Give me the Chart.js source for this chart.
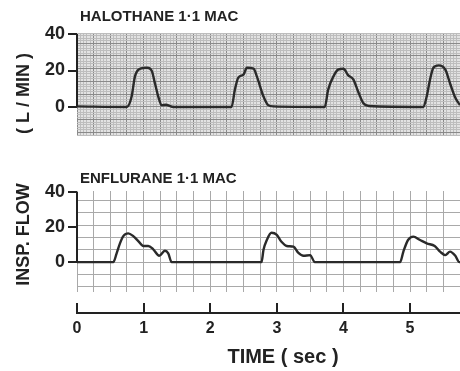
<!DOCTYPE html>
<html>
<head>
<meta charset="utf-8">
<script src="https://cdn.jsdelivr.net/npm/chart.js@4.4.1/dist/chart.umd.min.js"></script>
<style>
  html, body { margin: 0; padding: 0; background: #fff; }
  #wrap { position: relative; width: 460px; height: 371px; overflow: hidden; }
  #wrap div { position: absolute; left: 0; width: 460px; }
</style>
</head>
<body>
<div id="wrap">
  <div style="top:0;height:371px"><canvas id="timeAxis"></canvas></div>
  <div style="top:0;height:155px"><canvas id="halothane"></canvas></div>
  <div style="top:150px;height:160px"><canvas id="enflurane"></canvas></div>
</div>
<script>
// tick labels
const timeTicks = [0, 1, 2, 3, 4, 5];
const flowTicks = [0, 20, 40];

// halothane 1.1 MAC trace (sec, L/min)
const halothaneTime = [0, 0.75, 0.82, 0.87, 0.95, 1.05, 1.12, 1.17, 1.22, 1.27, 1.33, 1.45,
  2.32, 2.37, 2.42, 2.50, 2.55, 2.65, 2.70, 2.80, 2.87, 2.95,
  3.72, 3.77, 3.85, 3.92, 4.00, 4.07, 4.15, 4.22, 4.30, 4.38,
  5.20, 5.25, 5.30, 5.35, 5.43, 5.53, 5.60, 5.68, 5.75];
const halothaneFlow = [0.3, 0, 5.7, 16.8, 21, 21.5, 20, 13, 5.7, 1, 1.2, 0,
  0, 9.4, 16, 17.8, 21.5, 21, 16.8, 5.7, 1, 0.3,
  0, 9.4, 16.8, 20.5, 21, 17.5, 15, 8.5, 2, 0.5,
  0, 5.7, 15, 21.5, 22.8, 20.5, 13, 5, 1];

// enflurane 1.1 MAC trace (sec, L/min)
const enfluraneTime = [0, 0.545, 0.595, 0.645, 0.695, 0.77, 0.845, 0.92, 0.995, 1.07, 1.145, 1.235, 1.32, 1.37, 1.42,
  2.77, 2.80, 2.85, 2.92, 3.00, 3.07, 3.15, 3.25, 3.32, 3.40, 3.50, 3.57,
  4.85, 4.90, 4.97, 5.05, 5.15, 5.25, 5.37, 5.45, 5.53, 5.60, 5.68, 5.74, 5.75];
const enfluraneFlow = [0, 0, 5, 10.7, 14.8, 16.4, 14.8, 12, 9.2, 9.2, 7.3, 3.6, 6.5, 5, 0,
  0, 7, 12.6, 16.7, 15.5, 11.6, 9.2, 8.8, 5.4, 3.6, 4, 0,
  0, 6, 12.6, 14.5, 12.6, 10.7, 9.2, 6, 4, 6, 3.6, 0, 0];

const FONT = '"Liberation Sans", Arial, sans-serif';
const INK = '#222';
const T_MAX = 5.75;

const isMultiple = (v, step) => Math.abs(v / step - Math.round(v / step)) < 1e-6;

// chart-area fill, left bracket of the y axis and panel title
const panelDecor = {
  id: 'panelDecor',
  beforeDraw(chart, args, o) {
    const { ctx, chartArea: a } = chart;
    if (o.fill) {
      ctx.save();
      ctx.fillStyle = o.fill;
      ctx.fillRect(a.left, a.top, a.right - a.left, a.bottom - a.top);
      ctx.restore();
    }
  },
  afterDraw(chart, args, o) {
    const { ctx, chartArea: a, scales: { y } } = chart;
    ctx.save();
    ctx.strokeStyle = INK;
    ctx.lineWidth = 2;
    ctx.beginPath();
    ctx.moveTo(a.left, y.getPixelForValue(flowTicks[0]));
    ctx.lineTo(a.left, y.getPixelForValue(flowTicks[flowTicks.length - 1]));
    ctx.stroke();
    ctx.fillStyle = INK;
    ctx.font = 'bold 15px ' + FONT;
    ctx.textBaseline = 'middle';
    ctx.fillText(o.title, 80, o.titleY);
    ctx.restore();
  }
};

const makePanel = (id, times, flows, o) => {
  new Chart(document.getElementById(id), {
    type: 'line',
    data: {
      datasets: [{
        data: times.map((t, i) => ({ x: t, y: flows[i] })),
        borderColor: '#2a2a2a',
        borderWidth: 2.4,
        pointRadius: 0,
        cubicInterpolationMode: 'monotone',
        fill: false
      }]
    },
    options: {
      responsive: true,
      maintainAspectRatio: false,
      animation: false,
      layout: { padding: { left: 0, right: 0, top: o.top, bottom: o.bottom } },
      plugins: {
        legend: { display: false },
        tooltip: { enabled: false },
        panelDecor: { title: o.title, titleY: o.titleY, fill: o.fill }
      },
      scales: {
        x: {
          type: 'linear', min: 0, max: T_MAX,
          ticks: { display: false, stepSize: o.xStep, maxTicksLimit: 1000 },
          grid: {
            drawTicks: false,
            color: c => isMultiple(c.tick.value, 0.25) ? o.major : o.minor
          },
          border: { display: false },
          afterFit: s => { s.height = 0; }
        },
        y: {
          type: 'linear', position: 'left', min: o.min, max: o.max,
          afterBuildTicks: s => { s.ticks = flowTicks.map(v => ({ value: v })); },
          ticks: { font: { family: FONT, size: 18, weight: 'bold' }, color: INK, padding: 3 },
          grid: { drawOnChartArea: false, drawTicks: true, tickLength: 9, color: INK, lineWidth: 2 },
          border: { display: false },
          afterFit: s => { s.width = 77; }
        },
        gy: {
          type: 'linear', position: 'left', min: o.min, max: o.max,
          ticks: { display: false, stepSize: o.yStep, includeBounds: false, maxTicksLimit: 1000 },
          grid: {
            drawTicks: false,
            color: c => isMultiple(c.tick.value, 7) ? o.major : o.minor
          },
          border: { display: false },
          afterFit: s => { s.width = 0; }
        }
      }
    },
    plugins: [panelDecor]
  });
};

makePanel('halothane', halothaneTime, halothaneFlow, {
  title: 'HALOTHANE 1·1 MAC', titleY: 17,
  top: 33, bottom: 20, min: -15.4, max: 40.6,
  xStep: 0.05, yStep: 1.4,
  fill: '#e2e2e2', major: '#8a8a8a', minor: '#bdbdbd'
});

makePanel('enflurane', enfluraneTime, enfluraneFlow, {
  title: 'ENFLURANE 1·1 MAC', titleY: 28.5,
  top: 41, bottom: 18, min: -17, max: 40.5,
  xStep: 0.25, yStep: 7,
  fill: null, major: '#a9a9a9', minor: '#a9a9a9'
});

// axis titles
const axisTitles = {
  id: 'axisTitles',
  afterDraw(chart) {
    const { ctx } = chart;
    ctx.save();
    ctx.fillStyle = INK;
    ctx.textAlign = 'center';
    ctx.textBaseline = 'middle';
    ctx.font = 'bold 20px ' + FONT;
    ctx.fillText('TIME ( sec )', 283, 357);
    ctx.font = 'bold 18px ' + FONT;
    [['INSP. FLOW', 234.5], ['( L / MIN )', 93.5]].forEach(([txt, cy]) => {
      ctx.save();
      ctx.translate(24, cy);
      ctx.rotate(-Math.PI / 2);
      ctx.fillText(txt, 0, 0);
      ctx.restore();
    });
    ctx.restore();
  }
};

new Chart(document.getElementById('timeAxis'), {
  type: 'line',
  data: { datasets: [] },
  options: {
    responsive: true,
    maintainAspectRatio: false,
    animation: false,
    layout: { padding: { left: 77, right: 0, top: 303, bottom: 0 } },
    plugins: { legend: { display: false }, tooltip: { enabled: false } },
    scales: {
      x: {
        type: 'linear', min: 0, max: T_MAX,
        afterBuildTicks: s => { s.ticks = timeTicks.map(v => ({ value: v })); },
        ticks: { font: { family: FONT, size: 16, weight: 'bold' }, color: INK, padding: 6 },
        grid: { drawTicks: false, color: INK, lineWidth: 2 },
        border: { display: true, color: INK, width: 2 },
        afterFit: s => { s.height = 58; }
      },
      y: { display: false, min: 0, max: 1 }
    }
  },
  plugins: [axisTitles]
});
</script>
</body>
</html>
